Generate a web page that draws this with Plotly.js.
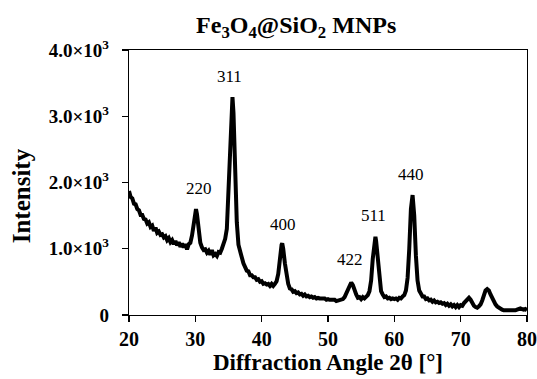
<!DOCTYPE html>
<html>
<head>
<meta charset="utf-8">
<script src="https://cdn.plot.ly/plotly-3.0.1.min.js"></script>
<style>
html,body{margin:0;padding:0;background:#fff;}
#chart{width:537px;height:379px;}
</style>
</head>
<body>
<div id="chart"></div>
<script>
// Diffraction angle 2θ (degrees)
var angle = [
20.0,20.25,20.5,20.75,21.0,21.25,21.5,21.75,22.0,22.25,22.5,22.75,23.0,23.25,23.5,23.75,
24.0,24.25,24.5,24.75,25.0,25.25,25.5,25.75,26.0,26.25,26.5,26.75,27.0,27.25,27.5,27.75,
28.0,28.25,28.5,28.75,29.0,29.25,29.5,29.75,30.0,30.1,30.25,30.5,30.75,31.0,31.25,31.5,31.75,
32.0,32.25,32.5,32.75,33.0,33.25,33.5,33.75,34.0,34.25,34.5,34.75,35.0,35.25,35.5,35.6,35.75,
36.0,36.25,36.5,36.75,37.0,37.25,37.5,37.75,38.0,38.25,38.5,38.75,39.0,39.25,39.5,39.75,
40.0,40.25,40.5,40.75,41.0,41.25,41.5,41.75,42.0,42.25,42.5,42.75,43.0,43.1,43.25,43.5,43.75,
44.0,44.25,44.5,44.75,45.0,45.25,45.5,45.75,46.0,46.25,46.5,46.75,47.0,47.25,47.5,47.75,
48.0,48.25,48.5,48.75,49.0,49.25,49.5,49.75,50.0,50.25,50.5,50.75,51.0,51.25,51.5,51.75,
52.0,52.25,52.5,52.75,53.0,53.25,53.5,53.75,54.0,54.25,54.5,54.75,55.0,55.25,55.5,55.75,
56.0,56.25,56.5,56.75,57.0,57.15,57.25,57.5,57.75,58.0,58.25,58.5,58.75,59.0,59.25,59.5,59.75,
60.0,60.25,60.5,60.75,61.0,61.25,61.5,61.75,62.0,62.25,62.5,62.75,63.0,63.25,63.5,63.75,
64.0,64.25,64.5,64.75,65.0,65.25,65.5,65.75,66.0,66.25,66.5,66.75,67.0,67.25,67.5,67.75,
68.0,68.25,68.5,68.75,69.0,69.25,69.5,69.75,70.0,70.25,70.5,70.75,71.0,71.25,71.5,71.75,
72.0,72.25,72.5,72.75,73.0,73.25,73.5,73.75,74.0,74.25,74.5,74.75,75.0,75.25,75.5,75.75,
76.0,76.25,76.5,76.75,77.0,77.25,77.5,77.75,78.0,78.25,78.5,78.75,79.0,79.25,79.5,79.75,80.0
];
// Intensity (counts)
var intensity = [
1870,1780,1760,1680,1670,1600,1580,1510,1510,1450,1440,1380,1400,1330,1350,1270,
1320,1240,1260,1210,1220,1170,1190,1130,1160,1100,1130,1070,1120,1050,1100,1030,
1080,1020,1070,990,1070,1090,1200,1400,1580,1600,1520,1280,1090,1020,980,990,940,
970,910,980,900,920,890,950,940,1000,1060,1150,1300,1900,2700,3250,3290,3050,
2100,1400,1060,930,870,780,730,670,660,600,600,570,570,530,540,500,
510,470,480,460,470,440,470,440,470,510,620,880,1060,1080,1000,780,560,
470,400,390,350,360,330,340,310,320,290,310,280,290,270,280,260,
270,250,260,250,250,240,250,230,240,230,230,220,230,210,220,220,
230,240,270,330,400,460,490,450,370,310,260,270,240,270,250,280,
300,360,520,850,1150,1180,1120,840,520,360,310,270,280,250,260,240,250,
240,250,230,260,250,280,300,370,560,1000,1600,1810,1500,900,520,370,
330,280,280,240,250,220,230,200,220,190,200,180,190,170,180,150,
170,140,160,130,150,120,150,120,150,140,180,210,250,260,230,180,
140,120,110,130,160,220,300,370,390,370,310,250,200,160,130,110,
90,80,70,70,60,70,60,70,60,70,80,90,100,90,80,90,70
];
// Peak (hkl) labels and where they sit
var peakLabels = ["220","311","400","422","511","440"];
var labelAngle = [30.6, 35.2, 43.25, 53.35, 56.9, 62.45];
var labelIntensity = [1910, 3600, 1370, 840, 1500, 2120];
// Axis ticks
var xTicks = [20,30,40,50,60,70,80];
var yTicks = [0,1000,2000,3000,4000];
var yTickText = ["0","1.0×10<sup>3</sup>","2.0×10<sup>3</sup>","3.0×10<sup>3</sup>","4.0×10<sup>3</sup>"];

var serif = "Liberation Serif, Times New Roman, serif";

var trace = {
  x: angle, y: intensity, type: "scatter", mode: "lines",
  line: {color: "#000", width: 4}, hoverinfo: "skip"
};

var annotations = peakLabels.map(function(t, i){
  return {x: labelAngle[i], y: labelIntensity[i], xref: "x", yref: "y", text: t,
    showarrow: false, font: {family: serif, size: 17, color: "#000"}};
});
annotations.push({text: "<b>Intensity</b>", xref: "paper", yref: "paper",
  x: -0.27, y: 0.45, xanchor: "center", yanchor: "middle", textangle: -90,
  showarrow: false, font: {family: serif, size: 25, color: "#000"}});

var layout = {
  width: 537, height: 379,
  margin: {l: 129, r: 10, t: 50, b: 64},
  paper_bgcolor: "#fff", plot_bgcolor: "#fff",
  showlegend: false,
  title: {text: "<b>Fe<sub>3</sub>O<sub>4</sub>@SiO<sub>2</sub> MNPs</b>",
    font: {family: serif, size: 24, color: "#000"},
    x: 0.42, xref: "paper", xanchor: "center", y: 0.935, yref: "container", yanchor: "middle"},
  xaxis: {
    range: [20, 80], tickvals: xTicks, ticktext: xTicks.map(String),
    showgrid: false, zeroline: false,
    showline: true, linecolor: "#000", linewidth: 1.3, mirror: true,
    ticks: "outside", ticklen: 6, tickwidth: 1.3, tickcolor: "#000",
    tickfont: {family: serif, size: 20, color: "#000", weight: "bold"},
    title: {text: "<b>Diffraction Angle 2θ [°]</b>", font: {family: serif, size: 23, color: "#000"}, standoff: 3}
  },
  yaxis: {
    range: [0, 4000], tickvals: yTicks, ticktext: yTickText,
    showgrid: false, zeroline: false,
    showline: true, linecolor: "#000", linewidth: 1.3, mirror: true,
    ticks: "outside", ticklen: 6, tickwidth: 1.3, tickcolor: "#000",
    ticklabelstandoff: 9,
    tickfont: {family: serif, size: 19, color: "#000", weight: "bold"}
  },
  annotations: annotations
};

Plotly.newPlot("chart", [trace], layout, {displayModeBar: false, staticPlot: true});
</script>
</body>
</html>
